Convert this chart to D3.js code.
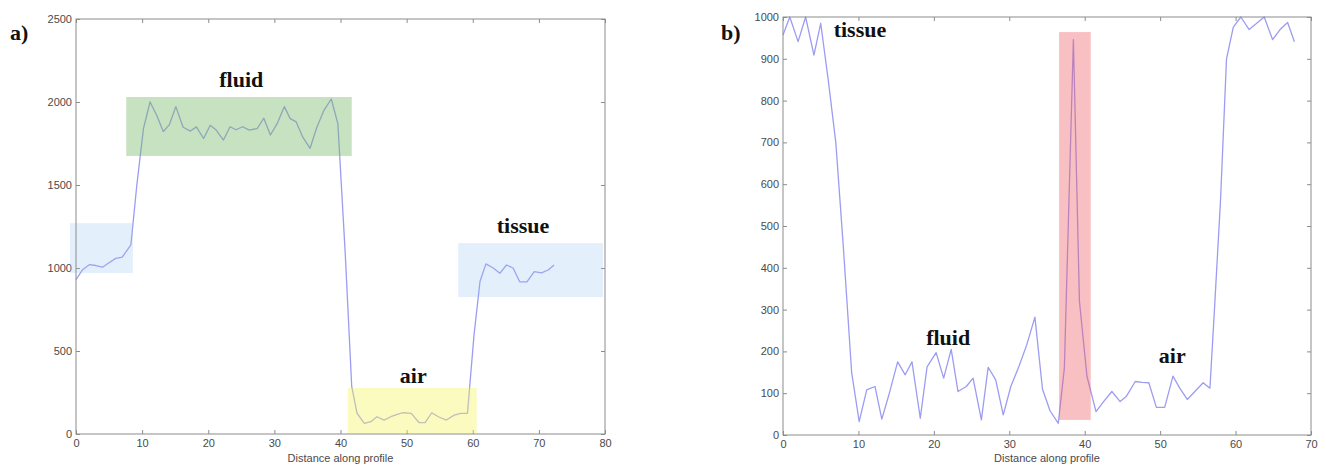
<!DOCTYPE html>
<html>
<head>
<meta charset="utf-8">
<script src="https://cdn.jsdelivr.net/npm/d3@7"></script>
<style>
  body { margin: 0; background: #fff; }
  svg { display: block; }
  .tick text { font-family: "Liberation Sans", Arial, sans-serif; font-size: 11px; fill: #4a4a4a; }
  .tick line { stroke: #8c8c8c; }
  .note { font-family: "Liberation Serif", "Times New Roman", serif; font-weight: bold; font-size: 22px; fill: #111; }
</style>
</head>
<body>
<div id="chart"></div>
<script>
const width = 1326;
const height = 469;

// profile a) : distance along profile / intensity
const profileAX = [0,1,2,3,4,5,6,7,8.3,9.2,10.2,11.2,12.2,13.2,14.1,15.1,16.2,17.3,18.2,19.3,20.3,21.2,22.3,23.3,24.2,25.2,26.2,27.4,28.4,29.4,30.4,31.5,32.4,33.3,34.3,35.4,36.4,37.5,38.6,39.6,40.7,41.7,42.5,43.6,44.6,45.5,46.6,47.6,48.6,49.4,50.7,51.9,52.8,53.8,54.8,56.0,57.2,58.2,59.2,60.2,61.1,62.0,63.1,64.1,65.1,66.1,67.1,68.2,69.3,70.4,71.4,72.3];
const profileAY = [930,990,1020,1015,1005,1032,1058,1066,1140,1500,1840,2000,1920,1822,1862,1972,1848,1825,1850,1780,1860,1831,1771,1851,1833,1851,1831,1840,1902,1801,1868,1972,1900,1880,1788,1721,1845,1950,2018,1870,1100,285,125,64,74,104,84,104,118,128,124,68,68,128,104,84,114,124,124,600,920,1025,1000,968,1018,1000,917,917,978,971,988,1018];

// profile b)
const profileBX = [0,0.9,2,3,4.1,5,6,7,8,9.1,10.1,11.1,12.2,13.1,14.1,15.2,16.2,17.1,18.2,19.1,20.3,21.3,22.3,23.2,24.3,25.2,26.3,27.2,28.2,29.2,30.2,31.3,32.3,33.4,34.4,35.4,36.5,37.3,38.5,39.3,40.3,41.5,42.5,43.6,44.7,45.5,46.7,47.6,48.5,49.5,50.6,51.7,52.6,53.6,54.6,55.7,56.6,57.2,58.0,58.8,59.7,60.7,61.8,62.8,63.8,64.9,65.9,66.9,67.8];
const profileBY = [957,1000,941,1000,909,985,849,700,450,150,32,108,116,38,100,175,144,175,40,163,197,136,205,104,116,136,36,162,132,48,116,165,215,282,110,58,28,160,946,320,140,56,80,104,80,92,128,126,125,66,66,141,112,85,104,125,112,300,560,900,976,1000,970,985,1000,946,970,987,941];

// highlighted regions: [x0, x1, y0, y1] in data units
const regionsA = [[-0.9, 8.6, 970, 1270], [7.6, 41.7, 1675, 2030], [41.1, 60.6, 5, 277], [57.8, 79.7, 825, 1150]];
const regionKindsA = ["tissue", "fluid", "air", "tissue"];
const regionsB = [[36.6, 40.8, 36, 964]];
const regionKindsB = ["peak"];

// region labels: [x, y] in data units
const labelsA = ["fluid", "air", "tissue"];
const labelPosA = [[25, 2090], [51, 310], [67.6, 1210]];
const labelsB = ["tissue", "fluid", "air"];
const labelPosB = [[10.2, 952], [21.9, 215], [51.6, 172]];

const xTicksA = d3.range(0, 81, 10);
const yTicksA = d3.range(0, 2501, 500);
const xTicksB = d3.range(0, 71, 10);
const yTicksB = d3.range(0, 1001, 100);

const regionFill = {
  tissue: "rgba(150,195,245,0.26)",
  fluid: "rgba(118,187,105,0.42)",
  air: "rgba(245,245,95,0.40)",
  peak: "rgba(240,90,100,0.38)"
};

const svg = d3.select("#chart")
  .append("svg")
  .attr("width", width)
  .attr("height", height);

function drawPanel(opts) {
  const x = d3.scaleLinear().domain(opts.xDomain).range([opts.left, opts.right]);
  const y = d3.scaleLinear().domain(opts.yDomain).range([opts.bottom, opts.top]);
  const g = svg.append("g");
  const fmt = d3.format("d");

  // axes, ticks pointing inwards on all four sides
  g.append("g")
    .attr("transform", `translate(0, ${opts.bottom})`)
    .call(d3.axisBottom(x).tickValues(opts.xTicks).tickFormat(fmt).tickSize(-4).tickSizeOuter(0).tickPadding(5))
    .call(a => a.select(".domain").remove());
  g.append("g")
    .attr("transform", `translate(${opts.left}, 0)`)
    .call(d3.axisLeft(y).tickValues(opts.yTicks).tickFormat(fmt).tickSize(-4).tickSizeOuter(0).tickPadding(4))
    .call(a => a.select(".domain").remove());
  g.append("g")
    .attr("transform", `translate(0, ${opts.top})`)
    .call(d3.axisTop(x).tickValues(opts.xTicks).tickSize(-4).tickSizeOuter(0).tickFormat(""))
    .call(a => a.select(".domain").remove());
  g.append("g")
    .attr("transform", `translate(${opts.right}, 0)`)
    .call(d3.axisRight(y).tickValues(opts.yTicks).tickSize(-4).tickSizeOuter(0).tickFormat(""))
    .call(a => a.select(".domain").remove());

  const line = d3.line()
    .x((d, i) => x(opts.xs[i]))
    .y(d => y(d));

  g.append("path")
    .datum(opts.ys)
    .attr("d", line)
    .attr("fill", "none")
    .attr("stroke", "#9c9cf2")
    .attr("stroke-width", 1.3)
    .attr("stroke-linejoin", "round");

  // shaded boxes sit on top of the profile, like a translucent overlay
  g.selectAll("rect.region")
    .data(opts.regions)
    .join("rect")
    .attr("class", "region")
    .attr("x", d => x(d[0]))
    .attr("width", d => x(d[1]) - x(d[0]))
    .attr("y", d => y(d[3]))
    .attr("height", d => y(d[2]) - y(d[3]))
    .attr("fill", (d, i) => regionFill[opts.kinds[i]]);

  g.append("rect")
    .attr("x", opts.left)
    .attr("y", opts.top)
    .attr("width", opts.right - opts.left)
    .attr("height", opts.bottom - opts.top)
    .attr("fill", "none")
    .attr("stroke", "#8c8c8c")
    .attr("stroke-width", 1);

  g.selectAll("text.note")
    .data(opts.labels)
    .join("text")
    .attr("class", "note")
    .attr("x", (d, i) => x(opts.labelPos[i][0]))
    .attr("y", (d, i) => y(opts.labelPos[i][1]))
    .attr("text-anchor", "middle")
    .text(d => d);

  g.append("text")
    .attr("x", (opts.left + opts.right) / 2)
    .attr("y", 462)
    .attr("text-anchor", "middle")
    .attr("font-family", "'Liberation Sans', Arial, sans-serif")
    .attr("font-size", 11)
    .attr("fill", "#4a4a4a")
    .text("Distance along profile");

  g.append("text")
    .attr("x", opts.tagX)
    .attr("y", 40)
    .attr("class", "note")
    .attr("font-size", 20)
    .text(opts.tag);
}

drawPanel({
  left: 76, right: 605, top: 19, bottom: 434,
  xDomain: [0, 80], yDomain: [0, 2500],
  xTicks: xTicksA, yTicks: yTicksA,
  xs: profileAX, ys: profileAY,
  regions: regionsA, kinds: regionKindsA,
  labels: labelsA, labelPos: labelPosA,
  tag: "a)", tagX: 10
});

drawPanel({
  left: 783, right: 1311, top: 17, bottom: 435,
  xDomain: [0, 70], yDomain: [0, 1000],
  xTicks: xTicksB, yTicks: yTicksB,
  xs: profileBX, ys: profileBY,
  regions: regionsB, kinds: regionKindsB,
  labels: labelsB, labelPos: labelPosB,
  tag: "b)", tagX: 721
});
</script>
</body>
</html>
